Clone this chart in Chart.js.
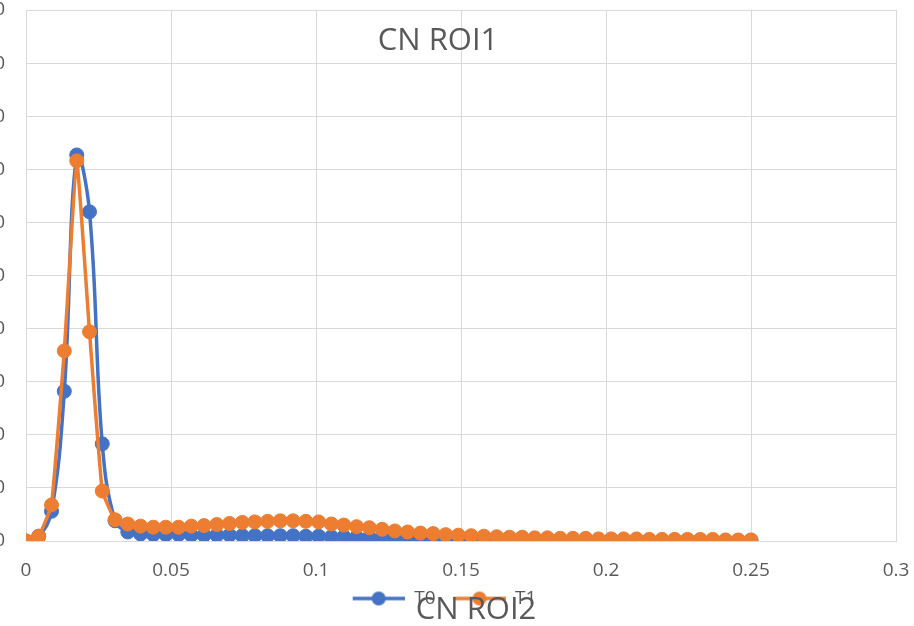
<!DOCTYPE html>
<html>
<head>
<meta charset="utf-8">
<script src="https://cdn.jsdelivr.net/npm/chart.js@4.4.1/dist/chart.umd.min.js"></script>
<style>
  html, body { margin: 0; padding: 0; background: #fff; overflow: hidden; }
  #wrap { position: relative; width: 914px; height: 626px; overflow: hidden; }
  #box { position: absolute; left: -70px; top: 0; width: 984px; height: 626px; }
  .ttl {
    position: absolute;
    font-family: "Open Sans";
    font-size: 31px;
    line-height: 31px;
    color: #595959;
    white-space: nowrap;
    transform: translateX(-50%);
  }
</style>
</head>
<body>
<div id="wrap">
  <div id="box"><canvas id="LineChart" width="984" height="626"></canvas></div>
  <div class="ttl" style="left:438px; top:23px;">CN ROI1</div>
  <div class="ttl" style="left:476px; top:592px;">CN ROI2</div>
</div>
<script>
// x positions of the samples
const xValues = [
  0, 0.0044, 0.0088, 0.0132, 0.0175, 0.0219, 0.0263, 0.0307, 0.0351, 0.0395,
  0.0439, 0.0482, 0.0526, 0.0570, 0.0614, 0.0658, 0.0702, 0.0746, 0.0789, 0.0833,
  0.0877, 0.0921, 0.0965, 0.1009, 0.1053, 0.1096, 0.1140, 0.1184, 0.1228, 0.1272,
  0.1316, 0.1360, 0.1404, 0.1447, 0.1491, 0.1535, 0.1579, 0.1623, 0.1667, 0.1711,
  0.1754, 0.1798, 0.1842, 0.1886, 0.1930, 0.1974, 0.2018, 0.2061, 0.2105, 0.2149,
  0.2193, 0.2237, 0.2281, 0.2325, 0.2368, 0.2412, 0.2456, 0.2500
];

const t0Values = [
  0, 9, 56, 282, 727, 620, 183, 38, 17, 13,
  12, 12, 12, 11, 11, 11, 11, 10, 10, 10,
  10, 10, 9, 9, 8, 8, 7, 7, 7, 6,
  6, 6, 5, 5, 5, 5, 4, 4, 4, 4,
  3, 3, 3, 3, 3, 2, 2, 2, 2, 2,
  2, 2, 2, 1, 1, 1, 1, 1
];

const t1Values = [
  0, 9, 68, 358, 716, 394, 94, 40, 32, 28,
  26, 26, 26, 28, 29, 31, 33, 35, 36, 37,
  38, 38, 37, 36, 32, 30, 27, 25, 22, 19,
  17, 15, 14, 12, 11, 10, 9, 8, 7, 7,
  6, 6, 5, 5, 5, 4, 4, 4, 4, 3,
  3, 3, 3, 3, 3, 2, 2, 2
];

const seriesNames = ["T0", "T1"];
const xTicks = [0, 0.05, 0.1, 0.15, 0.2, 0.25, 0.3];
const yTicks = [0, 100, 200, 300, 400, 500, 600, 700, 800, 900, 1000];

const colorTemp = ["#4472C4", "#ED7D31"];
const textColor = "#595959";
const gridColor = "#D9D9D9";
const fontFamily = "Open Sans";

function toPoints(ys) {
  return ys.map((y, i) => ({ x: xValues[i], y }));
}

// line with a dot in the middle, like the office legend key
function legendIcon(color) {
  const c = document.createElement("canvas");
  c.width = 63;
  c.height = 18;
  const ctx = c.getContext("2d");
  ctx.strokeStyle = color;
  ctx.lineWidth = 3.5;
  ctx.beginPath();
  ctx.moveTo(11, 9);
  ctx.lineTo(63, 9);
  ctx.stroke();
  ctx.fillStyle = color;
  ctx.beginPath();
  ctx.arc(37, 9, 7, 0, Math.PI * 2);
  ctx.fill();
  return c;
}

const icons = colorTemp.map(legendIcon);

function getDataSetItemConfig(values, index) {
  return {
    label: seriesNames[index],
    data: toPoints(values),
    borderColor: colorTemp[index],
    backgroundColor: colorTemp[index],
    borderWidth: 3.5,
    tension: index === 0 ? 0.4 : 0.1,
    pointRadius: 7,
    pointBorderWidth: 1,
    pointBorderColor: colorTemp[index],
    pointBackgroundColor: colorTemp[index],
    pointHoverRadius: 7,
    order: index === 0 ? 2 : 1,
  };
}

const chartConfig = {
  type: "line",
  data: {
    datasets: [t0Values, t1Values].map(getDataSetItemConfig),
  },
  options: {
    responsive: false,
    animation: false,
    devicePixelRatio: 1,
    layout: {
      padding: { top: 10, left: 52, right: 18, bottom: 8 },
    },
    scales: {
      x: {
        type: "linear",
        min: 0,
        max: 0.3,
        afterBuildTicks: scale => {
          scale.ticks = xTicks.map(v => ({ value: v }));
        },
        afterFit: scale => {
          scale.height = 41;
          scale.paddingLeft = 0;
          scale.paddingRight = 0;
        },
        ticks: {
          callback: val => String(val),
          color: textColor,
          padding: 18,
          maxRotation: 0,
          font: { family: fontFamily, size: 19 },
        },
        grid: { color: gridColor, lineWidth: 1, drawTicks: false },
        border: { color: gridColor, width: 1 },
      },
      y: {
        min: 0,
        max: 1000,
        afterBuildTicks: scale => {
          scale.ticks = yTicks.map(v => ({ value: v }));
        },
        afterFit: scale => {
          scale.width = 44;
          scale.paddingTop = 0;
          scale.paddingBottom = 0;
        },
        ticks: {
          color: textColor,
          padding: 21,
          font: { family: fontFamily, size: 19 },
        },
        grid: { color: gridColor, lineWidth: 1, drawTicks: false },
        border: { color: gridColor, width: 1 },
      },
    },
    plugins: {
      title: { display: false },
      tooltip: { enabled: false },
      legend: {
        position: "bottom",
        labels: {
          color: textColor,
          font: { family: fontFamily, size: 19 },
          padding: 7,
          usePointStyle: true,
          pointStyleWidth: 63,
          sort: (a, b) => a.datasetIndex - b.datasetIndex,
          generateLabels: chart => {
            const items = Chart.defaults.plugins.legend.labels.generateLabels(chart);
            items.forEach(it => {
              it.pointStyle = icons[it.datasetIndex];
            });
            return items;
          },
        },
      },
    },
  },
};

const ctx = document.getElementById("LineChart");
const lineChart = new Chart(ctx, chartConfig);
</script>
</body>
</html>
